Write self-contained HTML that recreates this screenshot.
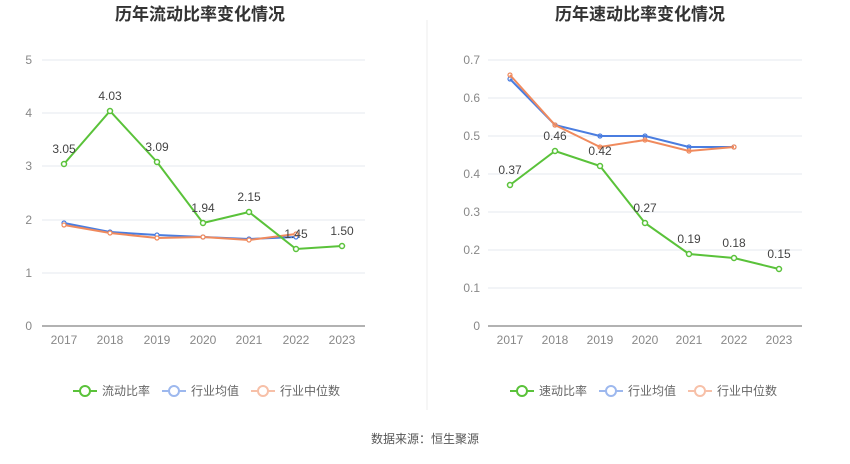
<!DOCTYPE html>
<html><head><meta charset="utf-8"><style>
body{margin:0;background:#fff;font-family:"Liberation Sans","Noto Sans CJK SC",sans-serif}
</style></head><body>
<svg width="850" height="459" xmlns="http://www.w3.org/2000/svg" font-family="Liberation Sans, Noto Sans CJK SC, sans-serif">
<rect width="850" height="459" fill="#fff"/>
<line x1="427" y1="20" x2="427" y2="410" stroke="#eee"/>
<text x="200" y="20" text-anchor="middle" font-size="17" font-weight="bold" fill="#333">历年流动比率变化情况</text>
<text x="640" y="20" text-anchor="middle" font-size="17" font-weight="bold" fill="#333">历年速动比率变化情况</text>
<g stroke="#e6e8ef" stroke-width="1">
<line x1="42" y1="60" x2="365" y2="60"/><line x1="42" y1="113" x2="365" y2="113"/><line x1="42" y1="166" x2="365" y2="166"/><line x1="42" y1="220" x2="365" y2="220"/><line x1="42" y1="273" x2="365" y2="273"/>
<line x1="488" y1="60" x2="802" y2="60"/><line x1="488" y1="98" x2="802" y2="98"/><line x1="488" y1="136" x2="802" y2="136"/><line x1="488" y1="174" x2="802" y2="174"/><line x1="488" y1="212" x2="802" y2="212"/><line x1="488" y1="250" x2="802" y2="250"/><line x1="488" y1="288" x2="802" y2="288"/>
</g>
<line x1="42" y1="326" x2="365" y2="326" stroke="#666"/>
<line x1="488" y1="326" x2="802" y2="326" stroke="#666"/>
<g font-size="12" fill="#888" text-anchor="end">
<text x="32" y="64">5</text><text x="32" y="117">4</text><text x="32" y="170">3</text><text x="32" y="224">2</text><text x="32" y="277">1</text><text x="32" y="330">0</text>
<text x="480" y="64">0.7</text><text x="480" y="102">0.6</text><text x="480" y="140">0.5</text><text x="480" y="178">0.4</text><text x="480" y="216">0.3</text><text x="480" y="254">0.2</text><text x="480" y="292">0.1</text><text x="480" y="330">0</text>
</g>
<g font-size="12" fill="#888" text-anchor="middle">
<text x="64" y="344">2017</text><text x="110" y="344">2018</text><text x="157" y="344">2019</text><text x="203" y="344">2020</text><text x="249" y="344">2021</text><text x="296" y="344">2022</text><text x="342" y="344">2023</text>
<text x="510" y="344">2017</text><text x="555" y="344">2018</text><text x="600" y="344">2019</text><text x="645" y="344">2020</text><text x="689" y="344">2021</text><text x="734" y="344">2022</text><text x="779" y="344">2023</text>
</g>
<g fill="#fff" stroke-width="2">
<polyline fill="none" stroke="#4a7de0" points="64,223 110,232 157,235 203,237 249,239 296,237"/>
<polyline fill="none" stroke="#f08a5d" points="64,225 110,233 157,238 203,237 249,240 296,234"/>
<g stroke="#4a7de0" stroke-width="1.2">
<circle cx="64" cy="223" r="2"/><circle cx="110" cy="232" r="2"/><circle cx="157" cy="235" r="2"/><circle cx="203" cy="237" r="2"/><circle cx="249" cy="239" r="2"/><circle cx="296" cy="237" r="2"/>
<circle cx="510" cy="79" r="2"/><circle cx="555" cy="125" r="2"/><circle cx="600" cy="136" r="2"/><circle cx="645" cy="136" r="2"/><circle cx="689" cy="147" r="2"/><circle cx="734" cy="147" r="2"/>
</g>
<g stroke="#f08a5d" stroke-width="1.2">
<circle cx="64" cy="225" r="2"/><circle cx="110" cy="233" r="2"/><circle cx="157" cy="238" r="2"/><circle cx="203" cy="237" r="2"/><circle cx="249" cy="240" r="2"/><circle cx="296" cy="234" r="2"/>
<circle cx="510" cy="75" r="2"/><circle cx="555" cy="125" r="2"/><circle cx="600" cy="147" r="2"/><circle cx="645" cy="140" r="2"/><circle cx="689" cy="151" r="2"/><circle cx="734" cy="147" r="2"/>
</g>
<polyline fill="none" stroke="#5ac23a" points="64,164 110,111 157,162 203,223 249,212 296,249 342,246"/>
<polyline fill="none" stroke="#4a7de0" points="510,79 555,125 600,136 645,136 689,147 734,147"/>
<polyline fill="none" stroke="#f08a5d" points="510,75 555,125 600,147 645,140 689,151 734,147"/>
<polyline fill="none" stroke="#5ac23a" points="510,185 555,151 600,166 645,223 689,254 734,258 779,269"/>
<g stroke="#5ac23a" stroke-width="1.5">
<circle cx="64" cy="164" r="2.5"/><circle cx="110" cy="111" r="2.5"/><circle cx="157" cy="162" r="2.5"/><circle cx="203" cy="223" r="2.5"/><circle cx="249" cy="212" r="2.5"/><circle cx="296" cy="249" r="2.5"/><circle cx="342" cy="246" r="2.5"/>
<circle cx="510" cy="185" r="2.5"/><circle cx="555" cy="151" r="2.5"/><circle cx="600" cy="166" r="2.5"/><circle cx="645" cy="223" r="2.5"/><circle cx="689" cy="254" r="2.5"/><circle cx="734" cy="258" r="2.5"/><circle cx="779" cy="269" r="2.5"/>
</g>
</g>
<g font-size="12" fill="#444" text-anchor="middle">
<text x="64" y="153">3.05</text><text x="110" y="100">4.03</text><text x="157" y="151">3.09</text><text x="203" y="212">1.94</text><text x="249" y="201">2.15</text><text x="296" y="238">1.45</text><text x="342" y="235">1.50</text>
<text x="510" y="174">0.37</text><text x="555" y="140">0.46</text><text x="600" y="155">0.42</text><text x="645" y="212">0.27</text><text x="689" y="243">0.19</text><text x="734" y="247">0.18</text><text x="779" y="258">0.15</text>
</g>
<g font-size="12" fill="#666" stroke-width="2">
<line x1="73" y1="391" x2="97" y2="391" stroke="#5ac23a"/><circle cx="85" cy="391" r="5" fill="#fff" stroke="#5ac23a"/><text x="102" y="395" stroke="none">流动比率</text>
<line x1="162" y1="391" x2="186" y2="391" stroke="#9db8ee"/><circle cx="174" cy="391" r="5" fill="#fff" stroke="#9db8ee"/><text x="191" y="395" stroke="none">行业均值</text>
<line x1="251" y1="391" x2="275" y2="391" stroke="#f7c0a8"/><circle cx="263" cy="391" r="5" fill="#fff" stroke="#f7c0a8"/><text x="280" y="395" stroke="none">行业中位数</text>
<line x1="510" y1="391" x2="534" y2="391" stroke="#5ac23a"/><circle cx="522" cy="391" r="5" fill="#fff" stroke="#5ac23a"/><text x="539" y="395" stroke="none">速动比率</text>
<line x1="599" y1="391" x2="623" y2="391" stroke="#9db8ee"/><circle cx="611" cy="391" r="5" fill="#fff" stroke="#9db8ee"/><text x="628" y="395" stroke="none">行业均值</text>
<line x1="688" y1="391" x2="712" y2="391" stroke="#f7c0a8"/><circle cx="700" cy="391" r="5" fill="#fff" stroke="#f7c0a8"/><text x="717" y="395" stroke="none">行业中位数</text>
</g>
<text x="425" y="443" text-anchor="middle" font-size="12" fill="#555">数据来源：恒生聚源</text>
</svg>
</body></html>
